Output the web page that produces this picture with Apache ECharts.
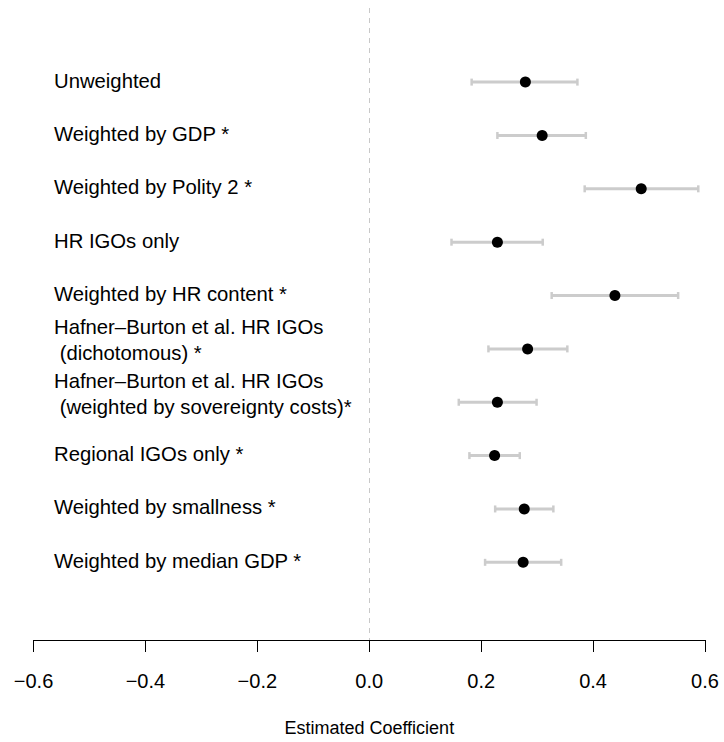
<!DOCTYPE html>
<html>
<head>
<meta charset="utf-8">
<script src="https://cdn.jsdelivr.net/npm/echarts@6/dist/echarts.min.js"></script>
<style>
html,body{margin:0;padding:0;background:#fff;}
#chart{width:724px;height:742px;}
</style>
</head>
<body>
<div id="chart"></div>
<script>
const categories = [
  "Unweighted",
  "Weighted by GDP *",
  "Weighted by Polity 2 *",
  "HR IGOs only",
  "Weighted by HR content *",
  "Hafner\u2013Burton et al. HR IGOs\n (dichotomous) *",
  "Hafner\u2013Burton et al. HR IGOs\n (weighted by sovereignty costs)*",
  "Regional IGOs only *",
  "Weighted by smallness *",
  "Weighted by median GDP *"
];
const estimates = [0.279, 0.309, 0.486, 0.229, 0.439, 0.283, 0.229, 0.224, 0.277, 0.275];
const lower     = [0.183, 0.229, 0.385, 0.147, 0.326, 0.213, 0.160, 0.179, 0.225, 0.207];
const upper     = [0.372, 0.387, 0.588, 0.310, 0.552, 0.354, 0.299, 0.269, 0.329, 0.343];
const xTicks = [-0.6, -0.4, -0.2, 0.0, 0.2, 0.4, 0.6];

const FONT = '"Liberation Sans", Arial, Helvetica, sans-serif';
const rows = categories.map((c, i) => i + 1);

const chart = echarts.init(document.getElementById('chart'), null, {renderer: 'svg'});

function fmt(v) {
  if (Math.abs(v) < 1e-9) return '0.0';
  return v.toFixed(1).replace('-', '\u2212');
}

const option = {
  backgroundColor: '#fff',
  animation: false,
  grid: {left: 33.5, right: 19, top: 8, bottom: 100.3, containLabel: false},
  xAxis: {
    type: 'value',
    min: xTicks[0],
    max: xTicks[xTicks.length - 1],
    interval: 0.2,
    position: 'bottom',
    axisLine: {show: true, onZero: false, lineStyle: {color: '#000', width: 1}},
    axisTick: {show: true, length: 12, lineStyle: {color: '#000', width: 1}},
    axisLabel: {fontFamily: FONT, fontSize: 20, color: '#000', margin: 31, formatter: fmt},
    splitLine: {show: false},
    name: 'Estimated Coefficient',
    nameLocation: 'middle',
    nameGap: 79,
    nameTextStyle: {fontFamily: FONT, fontSize: 18, color: '#000'}
  },
  yAxis: {
    type: 'value',
    inverse: true,
    min: -0.389,
    max: 11.456,
    show: false,
    splitLine: {show: false}
  },
  series: [
    {
      type: 'custom',
      name: 'labels',
      silent: true,
      data: categories.map((c, i) => [xTicks[0], rows[i], c]),
      renderItem: function (params, api) {
        const p = api.coord([api.value(0), api.value(1)]);
        const txt = categories[params.dataIndex];
        const multi = txt.indexOf('\n') >= 0;
        return {
          type: 'text',
          x: p[0] + 20.5,
          y: p[1] + (multi ? -8.5 : -1.5),
          style: {
            text: txt,
            fontFamily: FONT,
            fontSize: 20.3,
            fill: '#000',
            align: 'left',
            verticalAlign: 'middle',
            lineHeight: 26
          }
        };
      }
    },
    {
      type: 'custom',
      name: 'ci',
      silent: true,
      data: rows.map((r, i) => [lower[i], upper[i], r]),
      markLine: {
        silent: true,
        symbol: ['none', 'none'],
        label: {show: false},
        lineStyle: {color: '#c8c8c8', type: [5, 5], width: 1},
        data: [{xAxis: 0}]
      },
      renderItem: function (params, api) {
        const lo = api.coord([api.value(0), api.value(2)]);
        const hi = api.coord([api.value(1), api.value(2)]);
        const st = {stroke: '#cccccc', lineWidth: 3};
        const cap = {stroke: '#cccccc', lineWidth: 2.5};
        return {
          type: 'group',
          children: [
            {type: 'line', shape: {x1: lo[0], y1: lo[1], x2: hi[0], y2: hi[1]}, style: st},
            {type: 'line', shape: {x1: lo[0], y1: lo[1] - 3.5, x2: lo[0], y2: lo[1] + 3.5}, style: cap},
            {type: 'line', shape: {x1: hi[0], y1: hi[1] - 3.5, x2: hi[0], y2: hi[1] + 3.5}, style: cap}
          ]
        };
      }
    },
    {
      type: 'scatter',
      name: 'estimate',
      silent: true,
      symbol: 'circle',
      symbolSize: 11,
      itemStyle: {color: '#000', opacity: 1},
      data: rows.map((r, i) => [estimates[i], r])
    }
  ]
};
chart.setOption(option);
</script>
</body>
</html>
